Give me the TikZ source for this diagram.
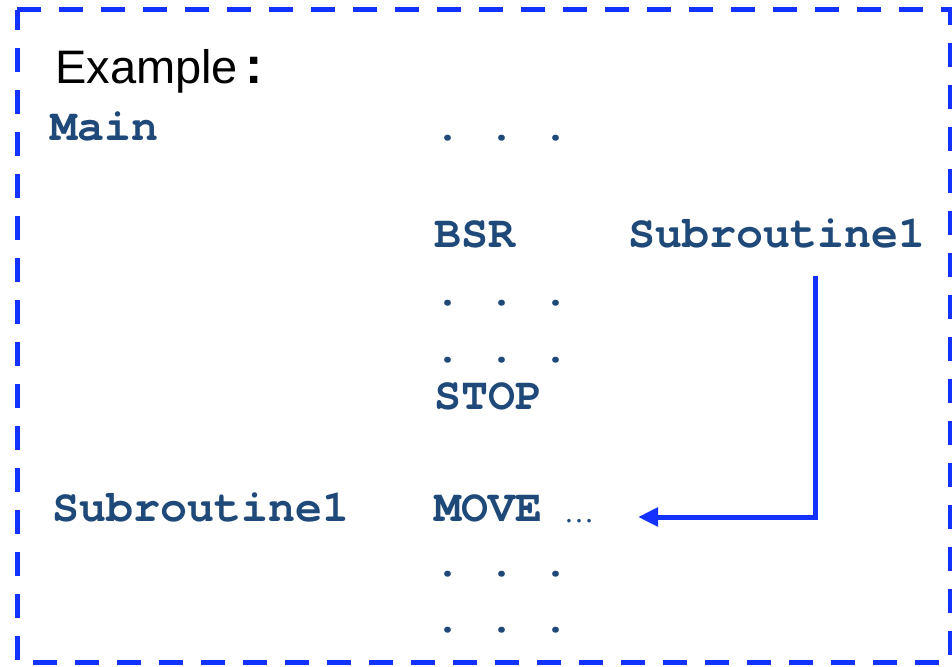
\documentclass[tikz,border=0pt]{standalone}
\usepackage{fontspec}
\setmainfont{Liberation Sans}
\newfontfamily\codefont{TeX Gyre Cursor}
\newfontfamily\dotsfont{Liberation Serif}
\usetikzlibrary{arrows.meta}
\definecolor{codeblue}{RGB}{31,73,120}
\definecolor{framblue}{RGB}{20,50,255}
\tikzset{
  code/.style={anchor=base west, inner sep=0pt, text=codeblue,
    font=\codefont\bfseries\fontsize{45}{45}\selectfont\frenchspacing},
  title/.style={anchor=base west, inner sep=0pt,
    font=\fontsize{47}{47}\selectfont},
  frame/.style={draw=framblue, line width=5pt, dash pattern=on 24pt off 18pt},
  link/.style={draw=framblue, line width=5pt,
    -{Triangle[length=20pt,width=18pt]}}
}
\begin{document}
\begin{tikzpicture}[x=1pt,y=-1pt]
  \useasboundingbox (0,0) rectangle (952,666);
  % dashed outline
  \draw[frame] (17,10) -- (950,10) -- (950,662) -- (17,662) -- cycle;
  % heading
  \node[title] (ex) at (55,84) {Example\,{\bfseries\fontsize{52}{52}\selectfont:}};
  % listing
  \node[code] (main) at (50,140) {Main};
  \node[code] (d1) at (434,140) {. . .};
  \node[code] (bsr) at (434,247) {BSR};
  \node[code] (sub) at (628,247) {Subroutine1};
  \node[code] (d2) at (434,305) {. . .};
  \node[code] (d3) at (434,362) {. . .};
  \node[code] (stop) at (434,409) {STOP};
  \node[code] (lbl) at (52,521) {Subroutine1};
  \node[code] (move) at (434,521) {MOVE};
  \node[anchor=base west, inner sep=0pt, text=codeblue,
    font=\dotsfont\fontsize{30}{30}\selectfont] (ell) at (564,522) {\dots};
  \node[code] (d4) at (434,576) {. . .};
  \node[code] (d5) at (434,632) {. . .};
  % jump from the call to the subroutine body
  \coordinate (top) at (815,276);
  \coordinate (corner) at (815,517);
  \coordinate (tip) at (638,517);
  \draw[link] (top) -- (corner) -- (tip);
\end{tikzpicture}
\end{document}
